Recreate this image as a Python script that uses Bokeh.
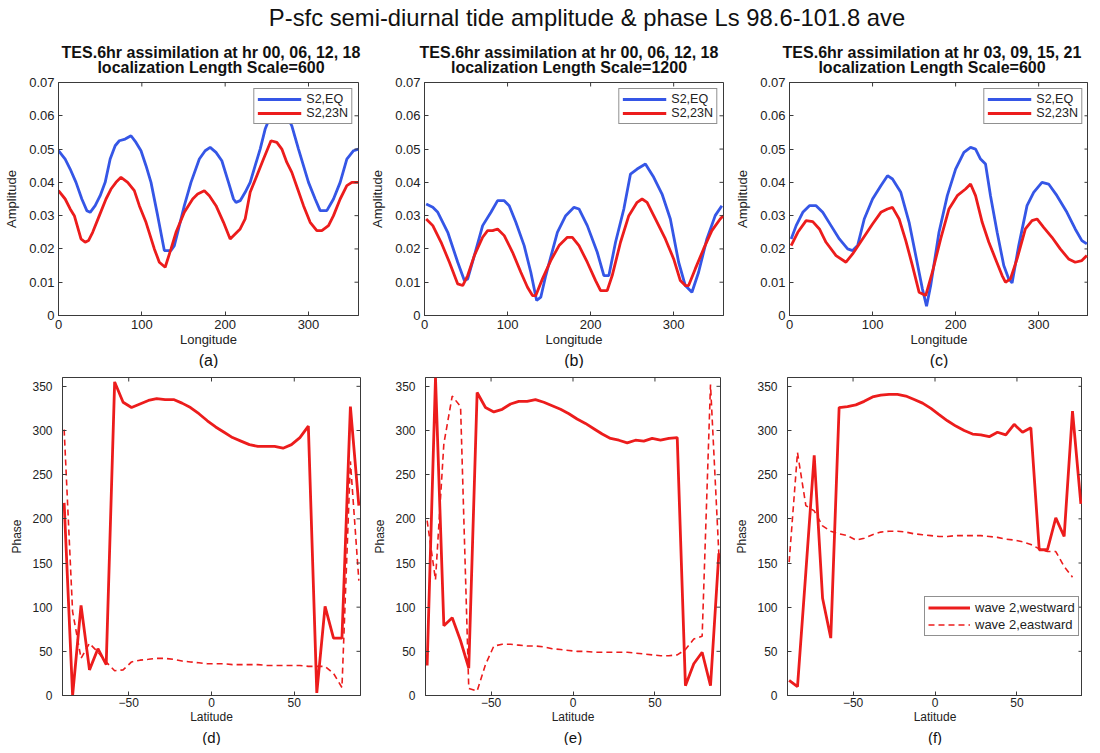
from bokeh.plotting import figure
from bokeh.models import (Range1d, FixedTicker, Title, Legend, LegendItem, Div, Spacer)
from bokeh.layouts import column, row
from bokeh.embed import file_html
from bokeh.resources import INLINE

FONT = "Liberation Sans"
BLUE = "#3556e6"
RED = "#ec1c1c"
AXC = "#3a3a3a"
TXT = "#222222"
NAN = float("nan")

# ---------------- data: amplitude panels (longitude, amplitude) ----------------
a_lon_eq = [0, 8, 14, 21, 28, 34, 38, 44, 50, 56, 62, 68, 73, 80, 87, 93, 99, 105, 111, 119,
            127, 135, 139, 143, 151, 159, 169, 176, 182, 189, 196, 204, 210, 213, 218, 224, 230, 236, 242, 248,
            256, 264, 272, 280, 288, 300, 308, 314, 322, 330, 338, 346, 354, 360]
a_amp_eq = [0.0495, 0.047, 0.044, 0.040, 0.035, 0.0315, 0.031, 0.033, 0.036, 0.040,
            0.047, 0.051, 0.0525, 0.053, 0.054, 0.052, 0.0495, 0.045, 0.040, 0.030,
            0.0195, 0.0195, 0.021, 0.025, 0.033, 0.040, 0.047, 0.0495, 0.0505, 0.049,
            0.0465, 0.040, 0.035, 0.034, 0.0345, 0.037, 0.040, 0.045, 0.050, 0.056,
            0.061, 0.063, 0.061, 0.057, 0.050, 0.040, 0.035, 0.0315, 0.0315, 0.035,
            0.040, 0.047, 0.0495, 0.050]
a_lon_23 = [0, 8, 14, 19, 27, 32, 36, 41, 49, 57, 63, 69, 75, 83, 91, 97, 105, 115, 121, 128,
            135, 141, 151, 161, 167, 175, 181, 189, 198, 206, 212, 218, 224, 230, 238, 246, 255, 262, 268, 274,
            280, 287, 294, 302, 310, 316, 324, 330, 338, 346, 352, 360]
a_amp_23 = [0.0375, 0.035, 0.032, 0.030, 0.023, 0.022, 0.0225, 0.025, 0.030, 0.035,
            0.038, 0.040, 0.0415, 0.040, 0.0375, 0.033, 0.028, 0.020, 0.016, 0.0145,
            0.020, 0.025, 0.031, 0.035, 0.0365, 0.0375, 0.036, 0.033, 0.028, 0.023,
            0.0245, 0.026, 0.029, 0.037, 0.042, 0.047, 0.0525, 0.052, 0.050, 0.046,
            0.043, 0.038, 0.033, 0.028, 0.0255, 0.0255, 0.027, 0.030, 0.035, 0.039,
            0.040, 0.040]

b_lon_eq = [2, 10, 16, 28, 40, 48, 52, 60, 70, 80, 88, 96, 102, 110, 120, 128, 135, 140, 146, 160,
            170, 180, 186, 196, 208, 216, 222, 230, 240, 248, 256, 266, 276, 286, 296, 306, 314, 322, 330, 340,
            350, 358]
b_amp_eq = [0.0335, 0.0325, 0.031, 0.025, 0.016, 0.0105, 0.011, 0.018, 0.027, 0.031,
            0.0345, 0.0345, 0.033, 0.028, 0.021, 0.013, 0.0045, 0.0055, 0.012, 0.025,
            0.030, 0.0325, 0.032, 0.027, 0.019, 0.012, 0.012, 0.022, 0.032, 0.0425,
            0.044, 0.0455, 0.0415, 0.0365, 0.029, 0.016, 0.009, 0.007, 0.013, 0.023,
            0.030, 0.033]
b_lon_23 = [2, 10, 20, 30, 40, 46, 52, 60, 70, 76, 82, 88, 96, 106, 116, 124, 130, 134, 142, 152,
            162, 172, 178, 186, 196, 206, 212, 220, 226, 236, 246, 256, 262, 268, 278, 290, 300, 308, 314, 318,
            326, 336, 346, 356, 360]
b_amp_23 = [0.029, 0.027, 0.022, 0.016, 0.0095, 0.009, 0.012, 0.018, 0.0235, 0.0255,
            0.0255, 0.026, 0.024, 0.019, 0.013, 0.0085, 0.006, 0.006, 0.011, 0.0165,
            0.021, 0.0235, 0.0235, 0.021, 0.016, 0.0105, 0.0075, 0.0075, 0.012, 0.022,
            0.030, 0.034, 0.035, 0.034, 0.029, 0.023, 0.017, 0.0105, 0.009, 0.009,
            0.014, 0.020, 0.0255, 0.029, 0.030]

c_lon_eq = [2, 8, 16, 24, 32, 40, 50, 60, 70, 76, 82, 90, 100, 110, 118, 124, 134, 144, 152, 160,
            165, 170, 180, 190, 200, 210, 218, 224, 230, 236, 242, 250, 258, 264, 268, 276, 286, 294, 304, 312,
            322, 334, 344, 352, 358]
c_amp_eq = [0.023, 0.027, 0.031, 0.033, 0.033, 0.031, 0.027, 0.023, 0.020, 0.0195,
            0.021, 0.029, 0.035, 0.039, 0.042, 0.041, 0.037, 0.028, 0.018, 0.008,
            0.0028, 0.009, 0.025, 0.036, 0.044, 0.049, 0.0505, 0.050, 0.047, 0.0455,
            0.036, 0.025, 0.015, 0.011, 0.0098, 0.021, 0.033, 0.037, 0.040, 0.0395,
            0.036, 0.031, 0.026, 0.0225, 0.0215]
c_lon_23 = [2, 10, 20, 28, 36, 44, 56, 68, 76, 88, 100, 110, 118, 124, 132, 140, 148, 156, 164, 172,
            182, 192, 202, 212, 218, 224, 232, 240, 248, 256, 260, 266, 274, 284, 292, 298, 306, 316, 326, 336,
            344, 352, 358]
c_amp_23 = [0.021, 0.025, 0.0285, 0.0282, 0.026, 0.022, 0.018, 0.016, 0.0185, 0.023,
            0.0275, 0.031, 0.032, 0.0325, 0.029, 0.0225, 0.015, 0.007, 0.006, 0.013,
            0.023, 0.032, 0.036, 0.038, 0.0395, 0.036, 0.028, 0.022, 0.017, 0.012,
            0.010, 0.011, 0.017, 0.026, 0.0285, 0.029, 0.0265, 0.0235, 0.020, 0.017,
            0.016, 0.0165, 0.018]

# ---------------- data: phase panels (latitude, phase) ----------------
lat = [-89.0, -83.9, -78.8, -73.7, -68.6, -63.6, -58.5, -53.4, -48.3, -43.2, -38.1, -33.1,
       -28.0, -22.9, -17.8, -12.7, -7.6, -2.5, 2.5, 7.6, 12.7, 17.8, 22.9, 28.0,
       33.1, 38.1, 43.2, 48.3, 53.4, 58.5, 63.6, 68.6, 73.7, 78.8, 83.9, 89.0]
d_west = [218, 0, 102, 29, 53, 35, 355, 332, 326, 330, 334, 336,
          335, 335, 331, 326, 319, 311, 304, 298, 292, 288, 284, 282,
          282, 282, 280, 284, 292, 305, 3, 101, 65, 65, 327, 215]
d_east = [301, 95, 42, 59, 49, 38, 28, 29, 38, 40, 41, 42,
          42, 41, 39, 38, 37, 36, 36, 36, 35, 35, 35, 35,
          34, 34, 34, 34, 34, 33, 33, 33, 25, 9, 265, 130]
e_west = [34, 360, 79, 88, 62, 31, 343, 326, 321, 324, 330, 333,
          333, 335, 332, 328, 324, 319, 313, 308, 302, 296, 291, 289,
          286, 289, 288, 291, 289, 291, 292, 11, 36, 49, 11, 161]
e_east = [198, 131, 285, 339, 327, 8, 5, 35, 56, 58, 58, 57,
          56, 56, 55, 53, 52, 51, 50, 50, 49, 49, 49, 49,
          49, 48, 47, 46, 45, 45, 46, 52, 64, 67, 352, 160]
f_west = [17, 10, 140, 272, 110, 65, 326, 327, 329, 333, 338, 340,
          341, 341, 339, 335, 331, 325, 318, 311, 305, 300, 296, 295,
          293, 298, 295, 307, 298, 303, 165, 165, 201, 180, 322, 217]
f_east = [151, 275, 215, 209, 192, 186, 183, 181, 176, 178, 182, 185,
          186, 186, 185, 183, 182, 181, 180, 180, 181, 181, 181, 181,
          180, 179, 177, 176, 174, 171, 166, 163, 163, 146, 134, NAN]

amp_ticks = [0, 0.01, 0.02, 0.03, 0.04, 0.05, 0.06, 0.07]
amp_labels = ["0", "0.01", "0.02", "0.03", "0.04", "0.05", "0.06", "0.07"]
lon_ticks = [0, 100, 200, 300]
lat_ticks = [-50, 0, 50]
phase_ticks = [0, 50, 100, 150, 200, 250, 300, 350]

main_title = "P-sfc semi-diurnal tide amplitude &amp; phase Ls 98.6-101.8 ave"
sub_titles = [("TES.6hr assimilation at hr 00, 06, 12, 18", "localization Length Scale=600"),
              ("TES.6hr assimilation at hr 00, 06, 12, 18", "localization Length Scale=1200"),
              ("TES.6hr assimilation at hr 03, 09, 15, 21", "localization Length Scale=600")]


def style_axis(ax, tick_size, label_size):
    ax.axis_line_color = AXC
    ax.major_tick_line_color = AXC
    ax.major_tick_in = 4
    ax.major_tick_out = 0
    ax.minor_tick_line_color = None
    ax.major_label_text_font = FONT
    ax.major_label_text_font_size = tick_size
    ax.major_label_text_color = TXT
    ax.axis_label_text_font = FONT
    ax.axis_label_text_font_size = label_size
    ax.axis_label_text_font_style = "normal"
    ax.axis_label_text_color = TXT


def box_ticks(p, xticks, yticks, xmax, ymax):
    # inward tick marks on the right and top edges of the box (half of each dash is clipped)
    p.scatter(x=[xmax] * len(yticks), y=yticks, marker="dash", size=8,
              line_color=AXC, line_width=1)
    p.scatter(x=xticks, y=[ymax] * len(xticks), marker="dash", angle=1.5708, size=8,
              line_color=AXC, line_width=1)


def base_fig(fw, fh, right, top, bottom, xr, yr):
    p = figure(frame_width=fw, frame_height=fh, output_backend="svg", toolbar_location=None,
               title=None, x_range=xr, y_range=yr, min_border_left=0,
               min_border_right=right, min_border_top=top, min_border_bottom=bottom)
    p.grid.visible = False
    p.outline_line_color = AXC
    p.outline_line_width = 1
    p.background_fill_color = "white"
    p.border_fill_color = "white"
    return p


def amp_panel(lon_eq, amp_eq, lon_23, amp_23, letter, fw, right):
    p = base_fig(fw, 233, right, 6, 52, Range1d(0, 360), Range1d(0, 0.07))
    p.xaxis.ticker = FixedTicker(ticks=lon_ticks)
    p.yaxis.ticker = FixedTicker(ticks=amp_ticks)
    p.yaxis.major_label_overrides = dict(zip(amp_ticks, amp_labels))
    p.xaxis.axis_label = "Longitude"
    p.yaxis.axis_label = "Amplitude"
    for ax in (p.xaxis[0], p.yaxis[0]):
        style_axis(ax, "13px", "13px")
    p.xaxis.major_label_standoff = 4
    p.xaxis.axis_label_standoff = 0
    p.yaxis.major_label_standoff = 4
    p.yaxis.axis_label_standoff = 7
    r1 = p.line(lon_eq, amp_eq, line_color=BLUE, line_width=2.8)
    r2 = p.line(lon_23, amp_23, line_color=RED, line_width=2.8)
    box_ticks(p, lon_ticks, amp_ticks, 360, 0.07)
    leg = Legend(items=[LegendItem(label="S2,EQ", renderers=[r1]),
                        LegendItem(label="S2,23N", renderers=[r2])],
                 location="top_right", margin=6, padding=3, spacing=0,
                 label_height=14, glyph_height=14, glyph_width=44, label_standoff=5,
                 label_text_font=FONT, label_text_font_size="12.5px", label_text_color=TXT,
                 border_line_color="#222222", border_line_width=1,
                 background_fill_color="white", background_fill_alpha=1.0)
    p.add_layout(leg)
    p.add_layout(Title(text=letter, align="center", text_font=FONT, text_font_size="16px",
                       text_font_style="normal", text_color="#111111", standoff=0), "below")
    return p


def phase_panel(west, east, letter, fw, right, legend=False):
    p = base_fig(fw, 318, right, 9, 46, Range1d(-90, 90), Range1d(0, 360))
    p.xaxis.ticker = FixedTicker(ticks=lat_ticks)
    p.yaxis.ticker = FixedTicker(ticks=phase_ticks)
    p.xaxis.axis_label = "Latitude"
    p.yaxis.axis_label = "Phase"
    for ax in (p.xaxis[0], p.yaxis[0]):
        style_axis(ax, "12px", "12px")
    p.xaxis.major_label_standoff = 2
    p.xaxis.axis_label_standoff = 0
    p.yaxis.major_label_standoff = 10
    p.yaxis.axis_label_standoff = 5
    r1 = p.line(lat, west, line_color=RED, line_width=2.8)
    r2 = p.line(lat, east, line_color=RED, line_width=1.6, line_dash="6 4")
    box_ticks(p, lat_ticks, phase_ticks, 90, 360)
    if legend:
        leg = Legend(items=[LegendItem(label="wave 2,westward", renderers=[r1]),
                            LegendItem(label="wave 2,eastward", renderers=[r2])],
                     location=(137, 59), margin=0, padding=3, spacing=2,
                     label_height=15, glyph_height=15, glyph_width=42, label_standoff=5,
                     label_text_font=FONT, label_text_font_size="13px", label_text_color=TXT,
                     border_line_color="#222222", border_line_width=1,
                     background_fill_color="white", background_fill_alpha=1.0)
        p.add_layout(leg)
    p.add_layout(Title(text=letter, align="center", text_font=FONT, text_font_size="15px",
                       text_font_style="normal", text_color="#111111", standoff=0), "below")
    return p


pa = amp_panel(a_lon_eq, a_amp_eq, a_lon_23, a_amp_23, "(a)", 300, 10)
pb = amp_panel(b_lon_eq, b_amp_eq, b_lon_23, b_amp_23, "(b)", 299, 13)
pc = amp_panel(c_lon_eq, c_amp_eq, c_lon_23, c_amp_23, "(c)", 299, 0)
pb.margin = (0, 0, 0, -2)
pc.margin = (0, 0, 0, -4)
pd = phase_panel(d_west, d_east, "(d)", 298, 5)
pe = phase_panel(e_west, e_east, "(e)", 295, 12)
pf = phase_panel(f_west, f_east, "(f)", 295, 0, legend=True)

# header: main title and the two-line panel titles (centres in px from the layout's left)
sub_centres = [206, 564, 927]
parts = ['<div style="position:relative;width:1084px;height:66px;'
         'font-family:\'Liberation Sans\',Arial,sans-serif;color:#111;">',
         '<div style="position:absolute;left:582px;top:0px;transform:translateX(-50%);'
         'white-space:nowrap;font-size:23.8px;line-height:26px;">' + main_title + '</div>']
for cx, (l1, l2) in zip(sub_centres, sub_titles):
    parts.append('<div style="position:absolute;left:%dpx;top:40px;transform:translateX(-50%%);'
                 'white-space:nowrap;text-align:center;font-size:16px;font-weight:bold;'
                 'line-height:15px;">%s<br>%s</div>' % (cx, l1, l2))
parts.append('</div>')
head = Div(text="".join(parts), width=1084, height=66)

top_row = row(Spacer(width=1, height=10), pa, Spacer(width=1, height=10), pb, pc)
bottom_row = row(Spacer(width=7, height=10), pd, Spacer(width=5, height=10), pe, pf)
layout = column(head, top_row, bottom_row)

with open("out.html", "w") as fh:
    fh.write(file_html(layout, INLINE, title="P-sfc semi-diurnal tide"))
